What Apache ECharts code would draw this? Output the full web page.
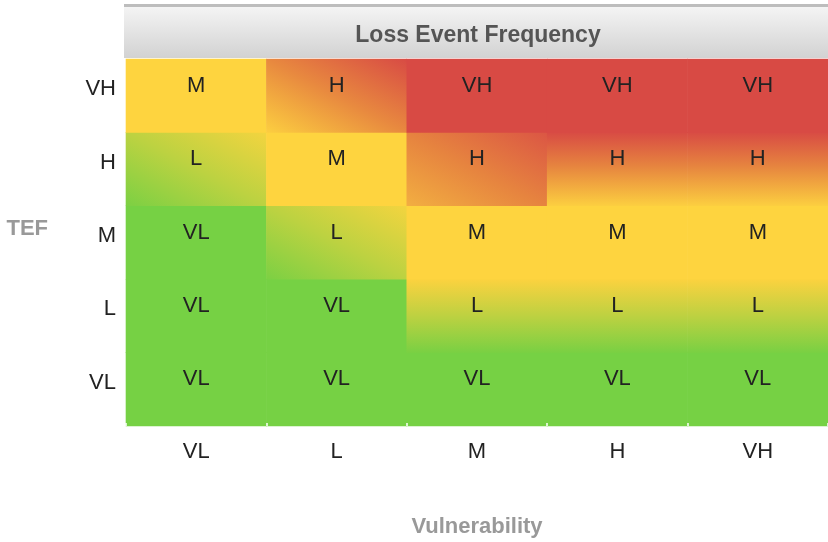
<!DOCTYPE html>
<html>
<head>
<meta charset="utf-8">
<script src="https://cdn.jsdelivr.net/npm/echarts@6/dist/echarts.min.js"></script>
<style>
  html, body { margin: 0; padding: 0; background: #fff; }
  #chart { width: 828px; height: 542px; }
</style>
</head>
<body>
<div id="chart"></div>
<script>
// ---- Data ----
const vulnerabilityLevels = ['VL', 'L', 'M', 'H', 'VH'];   // x axis
const tefLevels = ['VL', 'L', 'M', 'H', 'VH'];             // y axis (bottom to top)
// Loss Event Frequency per TEF row, across vulnerability columns
const lefTefVL = ['VL', 'VL', 'VL', 'VL', 'VL'];
const lefTefL  = ['VL', 'VL', 'L',  'L',  'L'];
const lefTefM  = ['VL', 'L',  'M',  'M',  'M'];
const lefTefH  = ['L',  'M',  'H',  'H',  'H'];
const lefTefVH = ['M',  'H',  'VH', 'VH', 'VH'];
const lefRows = [lefTefVL, lefTefL, lefTefM, lefTefH, lefTefVH];

const titleText = 'Loss Event Frequency';
const xName = 'Vulnerability';
const yName = 'TEF';

// ---- Styles ----
const GREEN = '#76D144', YELLOW = '#FED43F', RED = '#D84A44';
const LG = echarts.graphic.LinearGradient;
// stops go from bottom(-left) to top(-right)
const gradientStops = {
  GYd: [['#7CD043', 0], ['#BCD241', 0.5], ['#F3D43F', 1]],
  GYv: [['#79D043', 0], ['#BDD141', 0.5], ['#FCD23F', 1]],
  YRd: [['#FCCE40', 0], ['#E8893F', 0.5], ['#D84B44', 1]],
  ORd: [['#F2AE41', 0], ['#E6833F', 0.5], ['#DB5644', 1]],
  YRv: [['#FCCF40', 0], ['#E6833F', 0.55], ['#D84B44', 1]]
};
const solidFills = { G: GREEN, Y: YELLOW, R: RED };
// style per cell [tefIndex][vulnIndex]
const cellFill = [
  ['G', 'G', 'G', 'G', 'G'],
  ['G', 'G', 'GYv', 'GYv', 'GYv'],
  ['G', 'GYd', 'Y', 'Y', 'Y'],
  ['GYd', 'Y', 'ORd', 'YRv', 'YRv'],
  ['Y', 'YRd', 'R', 'R', 'R']
];

function makeFill(kind, cx, cy, w, h) {
  if (solidFills[kind]) return solidFills[kind];
  const stops = gradientStops[kind].map(s => ({ offset: s[1], color: s[0] }));
  if (kind.endsWith('v')) {
    return new LG(0, 1, 0, 0, stops);
  }
  // CSS-like "to top right": isolines parallel to the top-left/bottom-right diagonal
  const d = Math.sqrt(w * w + h * h);
  const ux = h / d, uy = -w / d;
  const L = w * h / d;
  return new LG(cx - ux * L, cy - uy * L, cx + ux * L, cy + uy * L, stops, true);
}

const cells = [];
lefRows.forEach((row, yi) => row.forEach((v, xi) => cells.push([xi, yi, v])));

const chart = echarts.init(document.getElementById('chart'), null, {renderer: 'canvas'});
const FONT = '"Liberation Sans", Arial, Helvetica, sans-serif';

chart.setOption({
  animation: false,
  backgroundColor: '#fff',
  grid: { left: 126, right: 0, top: 59, bottom: 116, containLabel: false, outerBoundsMode: 'none' },
  graphic: [
    {
      type: 'rect', left: 124, top: 4, z: 10,
      shape: { width: 704, height: 54 },
      style: {
        fill: new LG(0, 0, 0, 1, [{offset: 0, color: '#F6F6F6'}, {offset: 1, color: '#D2D2D2'}]),
        stroke: null
      }
    },
    {
      type: 'rect', left: 124, top: 4, z: 11,
      shape: { width: 704, height: 3 },
      style: { fill: '#BDBDBD' }
    },
    {
      type: 'text', x: 478, y: 36, z: 12,
      style: {
        text: titleText, align: 'center', verticalAlign: 'middle',
        font: 'bold 23px ' + FONT, fill: '#555555'
      }
    }
  ],
  xAxis: {
    type: 'category',
    data: vulnerabilityLevels,
    name: xName,
    nameLocation: 'middle',
    nameGap: 90,
    nameTextStyle: { fontFamily: FONT, fontSize: 22, fontWeight: 'bold', color: '#999999' },
    axisLine: { show: false },
    axisTick: { show: true, inside: true, length: 3, lineStyle: { color: '#ffffff', width: 1.5 } },
    axisLabel: { fontFamily: FONT, fontSize: 22, color: '#222222', margin: 15 },
    splitLine: { show: false },
    z: 5
  },
  yAxis: {
    type: 'category',
    data: tefLevels,
    name: yName,
    nameLocation: 'middle',
    nameRotate: 0,
    nameGap: 78,
    nameTextStyle: { fontFamily: FONT, fontSize: 22, fontWeight: 'bold', color: '#999999', verticalAlign: 'bottom', lineHeight: 28 },
    axisLine: { show: false },
    axisTick: { show: false },
    axisLabel: { fontFamily: FONT, fontSize: 22, color: '#222222', margin: 10, verticalAlign: 'bottom', lineHeight: 13 },
    splitLine: { show: false }
  },
  series: [{
    type: 'custom',
    data: cells,
    encode: { x: 0, y: 1 },
    renderItem: function (params, api) {
      const xi = api.value(0), yi = api.value(1);
      const label = cells[params.dataIndex][2];
      const c = api.coord([xi, yi]);
      const s = api.size([1, 1]);
      const fill = makeFill(cellFill[yi][xi], c[0], c[1], s[0], s[1]);
      return {
        type: 'group',
        children: [
          {
            type: 'rect',
            shape: { x: c[0] - s[0] / 2 - 0.3, y: c[1] - s[1] / 2 - 0.3, width: s[0] + 0.6, height: s[1] + 0.6 },
            style: { fill: fill, stroke: null }
          },
          {
            type: 'text',
            style: {
              text: label, x: c[0], y: c[1] - 10,
              align: 'center', verticalAlign: 'middle',
              font: '22px ' + FONT, fill: '#222222'
            }
          }
        ]
      };
    }
  }]
});
</script>
</body>
</html>
